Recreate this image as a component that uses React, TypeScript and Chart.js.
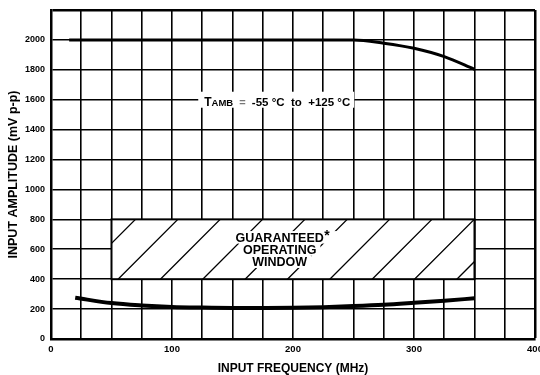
import { useEffect, useRef } from "react";
import { Chart, registerables } from "chart.js";

Chart.register(...registerables);

// ---- data ----
const upperFreq = [15, 50, 100, 150, 200, 250, 275, 300, 325, 350];
const upperAmp = [2000, 2000, 2000, 2000, 2000, 2000, 1978, 1944, 1888, 1803];
const lowerFreq = [20, 50, 75, 100, 125, 150, 175, 200, 225, 250, 275, 300, 325, 350];
const lowerAmp = [276, 240, 224, 214, 210, 208, 208, 209, 213, 220, 229, 242, 256, 272];

const xTickLabels = [0, 100, 200, 300, 400];
const yTickLabels = [0, 200, 400, 600, 800, 1000, 1200, 1400, 1600, 1800, 2000];

const windowFreq = [50, 350];
const windowAmp = [400, 800];
const windowLabel = ["GUARANTEED", "OPERATING", "WINDOW"];
const windowLabelFreq = 189;
const hatchSpacingMHz = 35;
const hatchOffsetMHz = 5.4;

const tempLabelFreq = 125;
const tempLabelAmp = 1600;

const FONT = "'Liberation Sans', Arial, Helvetica, sans-serif";

const annotations = {
  id: "annotations",
  beforeDatasetsDraw(chart: any) {
    const { ctx } = chart;
    const xs = chart.scales.x;
    const ys = chart.scales.y;

    // ---- guaranteed operating window ----
    const l = xs.getPixelForValue(windowFreq[0]);
    const r = xs.getPixelForValue(windowFreq[1]);
    const t = ys.getPixelForValue(windowAmp[1]);
    const b = ys.getPixelForValue(windowAmp[0]);
    const h = b - t;
    ctx.save();
    ctx.fillStyle = "#fff";
    ctx.fillRect(l, t, r - l, h);
    ctx.save();
    ctx.beginPath();
    ctx.rect(l, t, r - l, h);
    ctx.clip();
    const sp = xs.getPixelForValue(hatchSpacingMHz) - xs.getPixelForValue(0);
    const start = xs.getPixelForValue(windowFreq[0] + hatchOffsetMHz);
    ctx.beginPath();
    for (let x0 = start - Math.ceil(h / sp + 1) * sp; x0 < r; x0 += sp) {
      ctx.moveTo(x0, b);
      ctx.lineTo(x0 + h, t);
    }
    ctx.lineWidth = 1.3;
    ctx.strokeStyle = "#000";
    ctx.stroke();
    ctx.restore();

    // label
    const cx = xs.getPixelForValue(windowLabelFreq);
    const cy = (t + b) / 2;
    const lh = 12.2;
    ctx.font = `bold 12.5px ${FONT}`;
    ctx.textAlign = "center";
    ctx.textBaseline = "middle";
    windowLabel.forEach((s, i) => {
      const y = cy + (i - 1) * lh;
      let w = ctx.measureText(s).width;
      if (i === 0) w += 10;
      ctx.fillStyle = "#fff";
      ctx.fillRect(cx - w / 2 - 4 + (i === 0 ? 5 : 0), y - 6, w + 8, 12.5);
    });
    ctx.fillStyle = "#000";
    windowLabel.forEach((s, i) => {
      const y = cy + (i - 1) * lh + 1;
      ctx.fillText(s, cx, y);
      if (i === 0) {
        const w = ctx.measureText(s).width;
        ctx.save();
        ctx.font = `bold 14px ${FONT}`;
        ctx.textAlign = "left";
        ctx.fillText("*", cx + w / 2 + 0.5, y - 2);
        ctx.restore();
      }
    });

    // border of window
    ctx.lineWidth = 2;
    ctx.strokeStyle = "#000";
    ctx.strokeRect(l, t, r - l, h);

    // ---- temperature label ----
    const tx = xs.getPixelForValue(tempLabelFreq) + 2;
    const ty = ys.getPixelForValue(tempLabelAmp);
    const base = ty + 6;
    const parts = [
      { s: "T", size: 12, color: "#000" },
      { s: "AMB", size: 9.5, color: "#000" },
      { s: "  =  ", size: 11, color: "#777" },
      { s: "-55 °C  to  +125 °C", size: 11.5, color: "#000" },
    ];
    let total = 0;
    parts.forEach((p) => {
      ctx.font = `bold ${p.size}px ${FONT}`;
      total += ctx.measureText(p.s).width;
    });
    ctx.fillStyle = "#fff";
    ctx.fillRect(tx - 6, ty - 8, total + 10, 16);
    ctx.textAlign = "left";
    ctx.textBaseline = "alphabetic";
    let px = tx;
    parts.forEach((p) => {
      ctx.font = `bold ${p.size}px ${FONT}`;
      ctx.fillStyle = p.color;
      ctx.fillText(p.s, px, base);
      px += ctx.measureText(p.s).width;
    });
    ctx.restore();
  },
};

export default function App() {
  const ref = useRef<HTMLCanvasElement | null>(null);

  useEffect(() => {
    if (!ref.current) return;
    const chart = new Chart(ref.current, {
      type: "line",
      data: {
        datasets: [
          {
            data: upperFreq.map((f, i) => ({ x: f, y: upperAmp[i] })),
            borderColor: "#000",
            borderWidth: 3,
            pointRadius: 0,
            cubicInterpolationMode: "monotone",
            fill: false,
          },
          {
            data: lowerFreq.map((f, i) => ({ x: f, y: lowerAmp[i] })),
            borderColor: "#000",
            borderWidth: 4,
            pointRadius: 0,
            cubicInterpolationMode: "monotone",
            fill: false,
          },
        ],
      },
      options: {
        animation: false,
        responsive: true,
        maintainAspectRatio: false,
        layout: { padding: { top: 10, right: 5, left: 0, bottom: 0 } },
        plugins: { legend: { display: false }, tooltip: { enabled: false } },
        scales: {
          x: {
            type: "linear",
            min: 0,
            max: 400,
            afterFit: (s: any) => {
              s.height = 36;
              s.paddingLeft = 0;
              s.paddingRight = 0;
            },
            ticks: {
              stepSize: 25,
              autoSkip: false,
              maxRotation: 0,
              padding: 5,
              color: "#000",
              font: { family: FONT, size: 9.5, weight: "bold" },
              callback: (v: any) => (xTickLabels.includes(Number(v)) ? String(v) : ""),
            },
            grid: {
              color: "#000",
              drawTicks: false,
              lineWidth: (c: any) => (c.tick && c.tick.value === 400 ? 2.5 : 1.6),
            },
            border: { display: true, color: "#000", width: 2.5 },
            title: {
              display: true,
              text: "INPUT FREQUENCY (MHz)",
              color: "#000",
              font: { family: FONT, size: 12, weight: "bold", lineHeight: 1 },
              padding: { top: 0, bottom: 0 },
            },
          },
          y: {
            type: "linear",
            min: 0,
            max: 2200,
            afterFit: (s: any) => {
              s.width = 51;
              s.paddingTop = 0;
              s.paddingBottom = 0;
            },
            ticks: {
              stepSize: 200,
              autoSkip: false,
              padding: 6,
              color: "#000",
              font: { family: FONT, size: 9, weight: "bold" },
              callback: (v: any) => (yTickLabels.includes(Number(v)) ? String(v) : ""),
            },
            grid: {
              color: "#000",
              drawTicks: false,
              lineWidth: (c: any) => (c.tick && c.tick.value === 2200 ? 2.5 : 1.6),
            },
            border: { display: true, color: "#000", width: 2.5 },
            title: {
              display: true,
              text: "INPUT AMPLITUDE (mV p-p)",
              color: "#000",
              font: { family: FONT, size: 12.5, weight: "bold", lineHeight: 1 },
              padding: { top: 7, bottom: 0 },
            },
          },
        },
      },
      plugins: [annotations],
    } as any);
    return () => chart.destroy();
  }, []);

  return (
    <div
      style={{
        position: "fixed",
        left: 0,
        top: 0,
        width: 540,
        height: 375,
        background: "#fff",
      }}
    >
      <canvas ref={ref} />
    </div>
  );
}
